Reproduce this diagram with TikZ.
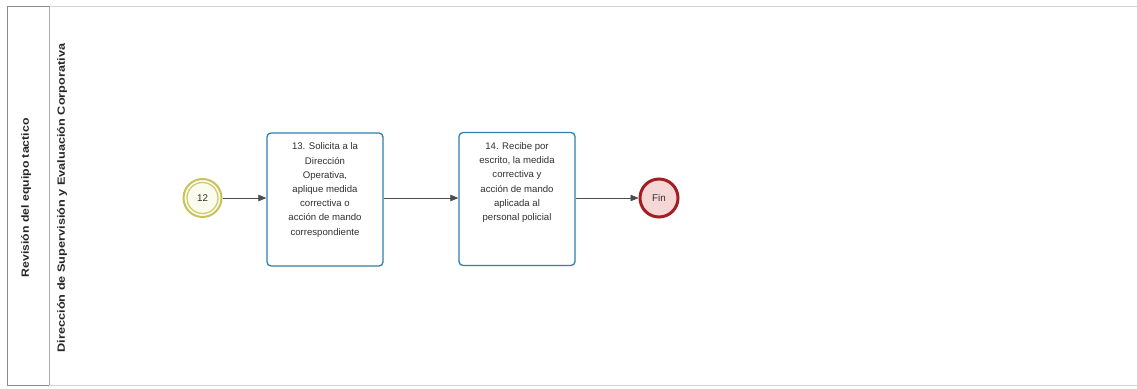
\documentclass[tikz,border=0pt]{standalone}
\usepackage{fontspec}
\setmainfont{Liberation Sans}
\usetikzlibrary{arrows.meta}
\definecolor{taskblue}{HTML}{2F7FA8}
\definecolor{evyellow}{HTML}{C8C25A}
\definecolor{evfill}{HTML}{FCFCEE}
\definecolor{finred}{HTML}{A31E22}
\definecolor{finfill}{HTML}{F7D6D6}
\definecolor{txtgray}{HTML}{303030}
\definecolor{poolgray}{HTML}{8A8A8A}
\definecolor{poolfaint}{HTML}{D4D4D4}
\newcommand\mytaskfont{\fontsize{9.6}{14.2}\selectfont}
\tikzset{
  task/.style={draw=taskblue, line width=1.3pt, rounded corners=4pt, fill=white,
    minimum width=116pt, minimum height=133pt, inner sep=3pt, anchor=center, text=txtgray},
  interev/.style={circle, draw=evyellow, line width=2pt, fill=evfill,
    minimum size=38pt, inner sep=0pt, font=\fontsize{9.8}{11}\selectfont, text=txtgray},
  endev/.style={circle, draw=finred, line width=3pt, fill=finfill,
    minimum size=38pt, inner sep=0pt, font=\fontsize{9.8}{11}\selectfont, text=txtgray},
  flow/.style={draw=black!70, line width=0.6pt, -{Triangle[length=8pt,width=6.5pt]}},
  poollabel/.style={rotate=90, font=\bfseries\fontsize{10.5}{12}\selectfont, text=black!85}
}
\begin{document}
\begin{tikzpicture}[x=1pt,y=-1pt]
\useasboundingbox (0,0) rectangle (1137,388);
% pool
\draw[poolfaint, line width=0.8pt] (49,6) -- (1137,6);
\draw[poolfaint, line width=0.8pt] (49,385) -- (1137,385);
\draw[poolgray, line width=0.9pt] (49,6) -- (7,6) -- (7,385) -- (49,385);
\draw[poolgray!70, line width=0.8pt] (49,6) -- (49,385);
\node[poollabel] (pool) at (26,198) {\scalebox{1.17}[1]{Revisión del equipo tactico}};
\node[poollabel] (lane) at (62,198) {\scalebox{1.21}[1]{Dirección de Supervisión y Evaluación Corporativa}};
% nodes
\node[interev] (e12) at (202.5,198) {12};
\draw[evyellow!85, line width=1.3pt] (e12.center) circle (15.5pt);
\node[task] (t13) at (325,199.5) {\parbox[t][127pt][t]{110pt}{\centering\mytaskfont\vspace*{7pt}13. Solicita a la\\ Dirección\\ Operativa,\\ aplique medida\\ correctiva o\\ acción de mando\\ correspondiente}};
\node[task] (t14) at (517,199) {\parbox[t][127pt][t]{110pt}{\centering\mytaskfont\vspace*{7pt}14. Recibe por\\ escrito, la medida\\ correctiva y\\ acción de mando\\ aplicada al\\ personal policial}};
\node[endev] (fin) at (659,198) {Fin};
% flows
\draw[flow] (e12.east) -- (t13.west |- e12.east);
\draw[flow] (t13.east |- fin.west) -- (t14.west |- fin.west);
\draw[flow] (t14.east |- fin.west) -- (fin.west);
\end{tikzpicture}
\end{document}
